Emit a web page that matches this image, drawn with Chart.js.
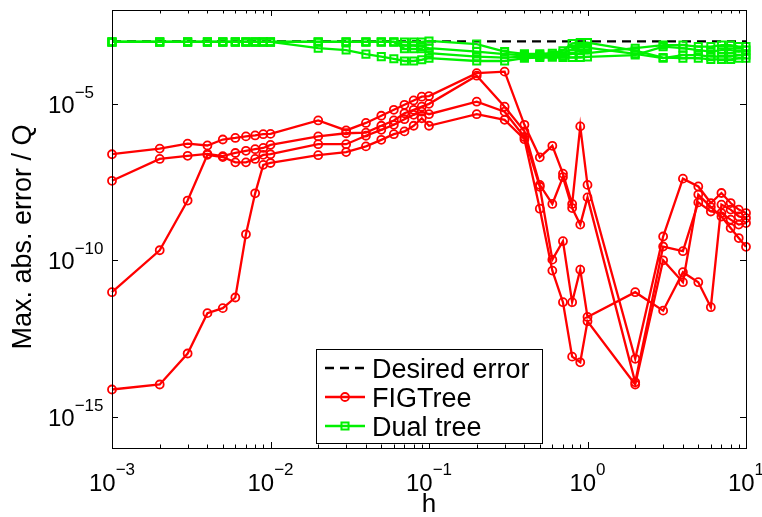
<!DOCTYPE html>
<html>
<head>
<meta charset="utf-8">
<script src="https://cdn.jsdelivr.net/npm/chart.js@4.4.1/dist/chart.umd.min.js"></script>
<style>
  html, body { margin: 0; padding: 0; background: #fff; }
  canvas { display: block; }
</style>
</head>
<body>
<canvas id="errChart" width="762" height="517"></canvas>
<script>
// h values (bandwidth) shared by every curve
const hValues = [
  0.001, 0.002, 0.003, 0.004, 0.005, 0.006, 0.007, 0.008, 0.009,
  0.01, 0.02, 0.03, 0.04, 0.05, 0.06, 0.07, 0.08, 0.09,
  0.1, 0.2, 0.3, 0.4, 0.5, 0.6, 0.7, 0.8, 0.9,
  1, 2, 3, 4, 5, 6, 7, 8, 9,
  10
];

// errors are kept as log10 exponents
const figtreeLog10A = [
  -6.61, -6.43, -6.27, -6.33, -6.14, -6.09, -6.04, -6.01, -5.97,
  -5.96, -5.53, -5.85, -5.61, -5.38, -5.19, -5.03, -4.89, -4.77,
  -4.75, -4.02, -3.97, -5.67, -6.71, -6.34, -7.23, -8.20, -5.72,
  -7.59, -13.15, -9.24, -7.39, -7.64, -8.17, -7.85, -8.17, -8.38,
  -8.49
];
const figtreeLog10B = [
  -7.46, -6.76, -6.66, -6.60, -6.67, -6.57, -6.50, -6.45, -6.41,
  -6.31, -6.04, -5.94, -5.92, -5.70, -5.53, -5.30, -5.19, -5.09,
  -5.00, -4.10, -5.09, -5.88, -7.59, -8.20, -7.34, -8.33, -8.86,
  -7.99, -13.90, -9.56, -9.71, -8.15, -8.44, -8.49, -8.70, -8.86,
  -8.81
];
const figtreeLog10C = [
  -11.02, -9.68, -8.09, -6.63, -6.70, -6.87, -6.87, -6.76, -6.63,
  -6.61, -6.29, -6.29, -6.02, -5.83, -5.67, -5.49, -5.35, -5.25,
  -5.33, -4.93, -5.25, -6.06, -7.65, -9.98, -9.39, -11.34, -10.30,
  -11.81, -11.02, -11.61, -10.38, -10.70, -11.50, -8.22, -8.38, -8.60,
  -8.65
];
const figtreeLog10D = [
  -14.13, -13.97, -12.98, -11.69, -11.53, -11.19, -9.17, -7.86, -6.95,
  -6.89, -6.64, -6.54, -6.36, -6.15, -5.97, -5.88, -5.70, -5.46,
  -5.70, -5.33, -5.51, -6.13, -8.35, -10.33, -11.34, -13.08, -13.26,
  -11.95, -13.97, -10.00, -10.70, -7.90, -8.30, -8.60, -8.97, -9.29,
  -9.57
];

const dualLog10A = [
  -3.02, -3.02, -3.02, -3.02, -3.02, -3.02, -3.02, -3.02, -3.02,
  -3.02, -3.02, -3.02, -3.02, -3.02, -3.02, -3.02, -3.02, -3.02,
  -2.99, -3.09, -3.33, -3.40, -3.40, -3.38, -3.30, -3.07, -3.04,
  -3.04, -3.30, -3.52, -3.54, -3.54, -3.58, -3.58, -3.58, -3.54,
  -3.54
];
const dualLog10B = [
  -3.02, -3.02, -3.02, -3.02, -3.02, -3.02, -3.02, -3.02, -3.02,
  -3.02, -3.02, -3.02, -3.02, -3.02, -3.02, -3.14, -3.14, -3.17,
  -3.22, -3.33, -3.41, -3.45, -3.44, -3.43, -3.38, -3.25, -3.20,
  -3.20, -3.40, -3.54, -3.44, -3.44, -3.49, -3.49, -3.49, -3.44,
  -3.44
];
const dualLog10C = [
  -3.02, -3.02, -3.02, -3.02, -3.02, -3.02, -3.02, -3.02, -3.02,
  -3.02, -3.22, -3.28, -3.41, -3.49, -3.56, -3.63, -3.63, -3.59,
  -3.54, -3.63, -3.63, -3.54, -3.52, -3.51, -3.52, -3.52, -3.52,
  -3.50, -3.44, -3.17, -3.22, -3.28, -3.33, -3.28, -3.28, -3.33,
  -3.28
];
const dualLog10D = [
  -3.02, -3.02, -3.02, -3.02, -3.02, -3.02, -3.02, -3.02, -3.02,
  -3.02, -3.02, -3.02, -3.02, -3.02, -3.02, -3.24, -3.24, -3.24,
  -3.38, -3.49, -3.52, -3.49, -3.48, -3.47, -3.46, -3.40, -3.38,
  -3.38, -3.22, -3.12, -3.12, -3.17, -3.17, -3.12, -3.12, -3.17,
  -3.17
];

// desired error line
const desiredH = [0.001, 10];
const desiredErr = [1e-3, 1e-3];

// axis ticks
const xMajorTicks = [0.001, 0.01, 0.1, 1, 10];
const xTickExponents = ['\u22123', '\u22122', '\u22121', '0', '1'];
const yMajorTicks = [1e-15, 1e-10, 1e-5];
const yTickExponents = ['\u221215', '\u221210', '\u22125'];

const legendLabels = ['Desired error', 'FIGTree', 'Dual tree'];

const FONT = "'Liberation Sans', Arial, Helvetica, sans-serif";
const RED = '#ff0000';
const GREEN = '#00f000';

function toPoints(exps) {
	return hValues.map((h, i) => ({ x: h, y: Math.pow(10, exps[i]) }));
}

function figtreeSet(exps) {
	return {
		data: toPoints(exps),
		borderColor: RED,
		borderWidth: 2.3,
		pointStyle: 'circle',
		pointRadius: 4,
		pointBorderWidth: 1.8,
		pointBorderColor: RED,
		pointBackgroundColor: 'transparent',
		clip: false,
		order: 1,
	};
}

function dualSet(exps) {
	return {
		data: toPoints(exps),
		borderColor: GREEN,
		borderWidth: 2.3,
		pointStyle: 'rect',
		pointRadius: 5,
		pointBorderWidth: 2,
		pointBorderColor: GREEN,
		pointBackgroundColor: 'transparent',
		clip: false,
		order: 0,
	};
}

const datasets = [
	{
		data: desiredH.map((h, i) => ({ x: h, y: desiredErr[i] })),
		borderColor: '#000',
		borderWidth: 2.3,
		borderDash: [9, 6],
		pointRadius: 0,
		clip: false,
		order: 2,
	},
	figtreeSet(figtreeLog10A),
	figtreeSet(figtreeLog10B),
	figtreeSet(figtreeLog10C),
	figtreeSet(figtreeLog10D),
	dualSet(dualLog10A),
	dualSet(dualLog10B),
	dualSet(dualLog10C),
	dualSet(dualLog10D),
];

// MATLAB-like box, inward ticks, superscript tick labels and legend
const matlabAxes = {
	id: 'matlabAxes',
	afterDraw(chart) {
		const { ctx, chartArea: a } = chart;
		const xs = chart.scales.x;
		const ys = chart.scales.y;
		ctx.save();
		ctx.strokeStyle = '#000';
		ctx.fillStyle = '#000';
		ctx.lineWidth = 1;
		ctx.setLineDash([]);
		ctx.strokeRect(a.left + 0.5, a.top + 0.5, a.right - a.left, a.bottom - a.top);

		// x ticks (major + minor), bottom and top
		ctx.beginPath();
		xMajorTicks.forEach((v, k) => {
			const px = Math.round(xs.getPixelForValue(v)) + 0.5;
			ctx.moveTo(px, a.bottom); ctx.lineTo(px, a.bottom - 6);
			ctx.moveTo(px, a.top); ctx.lineTo(px, a.top + 6);
			if (k < xMajorTicks.length - 1) {
				for (let m = 2; m <= 9; m++) {
					const mx = Math.round(xs.getPixelForValue(v * m)) + 0.5;
					ctx.moveTo(mx, a.bottom); ctx.lineTo(mx, a.bottom - 3.5);
					ctx.moveTo(mx, a.top); ctx.lineTo(mx, a.top + 3.5);
				}
			}
		});
		// y ticks, left and right
		yMajorTicks.forEach(v => {
			const py = Math.round(ys.getPixelForValue(v)) + 0.5;
			ctx.moveTo(a.left, py); ctx.lineTo(a.left + 6, py);
			ctx.moveTo(a.right, py); ctx.lineTo(a.right - 6, py);
		});
		ctx.stroke();

		// x tick labels
		ctx.textBaseline = 'alphabetic';
		ctx.textAlign = 'left';
		xMajorTicks.forEach((v, k) => {
			const px = xs.getPixelForValue(v);
			ctx.font = '24px ' + FONT;
			const w1 = ctx.measureText('10').width;
			ctx.font = '17px ' + FONT;
			const w2 = ctx.measureText(xTickExponents[k]).width;
			const x0 = px - (w1 + w2) / 2;
			ctx.font = '24px ' + FONT;
			ctx.fillText('10', x0, a.bottom + 43);
			ctx.font = '17px ' + FONT;
			ctx.fillText(xTickExponents[k], x0 + w1, a.bottom + 27);
		});

		// y tick labels
		yMajorTicks.forEach((v, k) => {
			const py = ys.getPixelForValue(v);
			ctx.font = '24px ' + FONT;
			const w1 = ctx.measureText('10').width;
			ctx.fillText('10', 48, py + 9);
			ctx.font = '17px ' + FONT;
			ctx.fillText(yTickExponents[k], 48 + w1, py - 6);
		});

		// axis titles
		ctx.font = '26px ' + FONT;
		ctx.textAlign = 'center';
		ctx.fillText('h', (a.left + a.right) / 2, 512);
		ctx.save();
		ctx.translate(31, 237);
		ctx.rotate(-Math.PI / 2);
		ctx.font = '27px ' + FONT;
		ctx.fillText('Max. abs. error / Q', 0, 0);
		ctx.restore();

		// legend box
		const bx = 316.5, by = 349.5, bw = 226, bh = 94;
		ctx.fillStyle = '#fff';
		ctx.fillRect(bx, by, bw, bh);
		ctx.strokeStyle = '#000';
		ctx.lineWidth = 1;
		ctx.strokeRect(bx, by, bw, bh);
		const rows = [368, 397, 426];
		const styles = [datasets[0], datasets[1], datasets[5]];
		rows.forEach((ry, i) => {
			const s = styles[i];
			ctx.save();
			ctx.strokeStyle = s.borderColor;
			ctx.lineWidth = s.borderWidth;
			ctx.setLineDash(s.borderDash || []);
			ctx.beginPath();
			ctx.moveTo(325, ry); ctx.lineTo(365, ry);
			ctx.stroke();
			ctx.setLineDash([]);
			if (s.pointRadius > 0) {
				ctx.strokeStyle = s.pointBorderColor;
				ctx.fillStyle = s.pointBackgroundColor;
				ctx.lineWidth = s.pointBorderWidth;
				Chart.helpers.drawPoint(ctx, { pointStyle: s.pointStyle, radius: s.pointRadius, borderWidth: s.pointBorderWidth, rotation: 0 }, 345, ry);
			}
			ctx.restore();
			ctx.fillStyle = '#000';
			ctx.font = '27px ' + FONT;
			ctx.textAlign = 'left';
			ctx.fillText(legendLabels[i], 372, ry + 10);
		});
		ctx.restore();
	}
};

const chart = document.getElementById('errChart').getContext('2d');
const errChart = new Chart(chart, {
	type: 'line',
	data: { datasets: datasets },
	options: {
		responsive: false,
		animation: false,
		devicePixelRatio: 1,
		layout: { padding: { left: 112, right: 16, top: 10, bottom: 69 } },
		plugins: {
			legend: { display: false },
			tooltip: { enabled: false },
		},
		scales: {
			x: { type: 'logarithmic', min: 0.001, max: 10, display: false },
			y: { type: 'logarithmic', min: 1e-16, max: 1e-2, display: false },
		},
		elements: { line: { tension: 0 } },
	},
	plugins: [matlabAxes],
});
</script>
</body>
</html>
